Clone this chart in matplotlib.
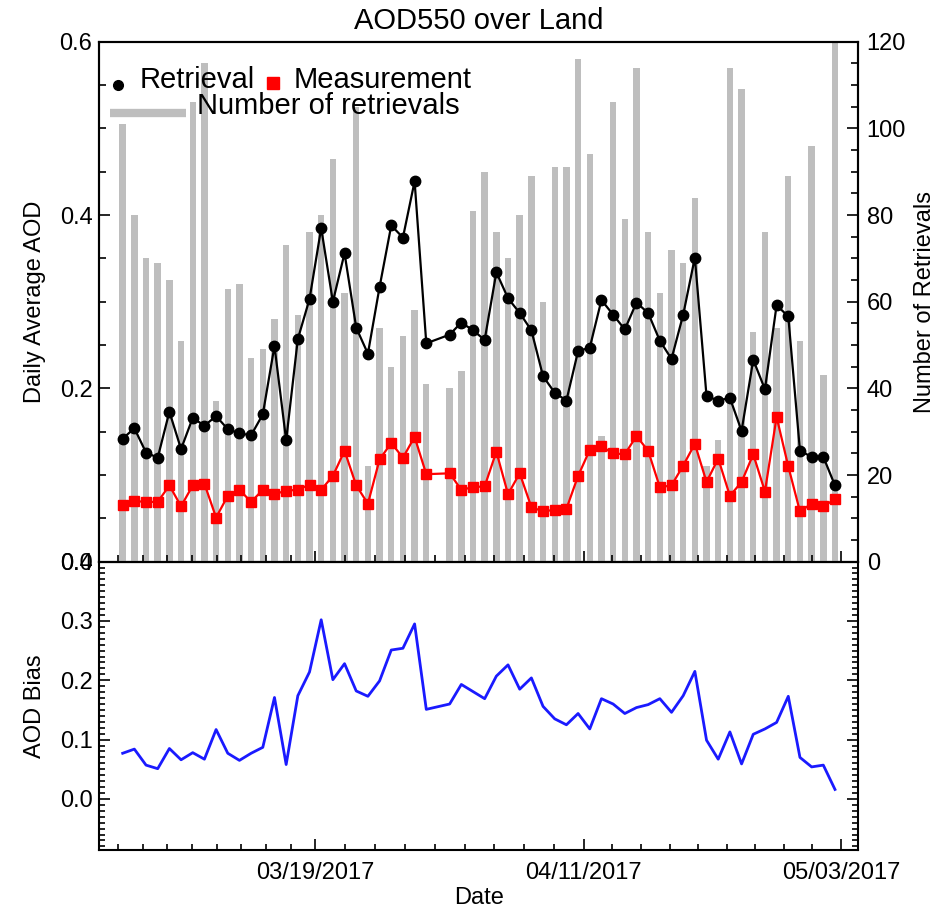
import numpy as np
import pandas as pd
import matplotlib
matplotlib.use("Agg")
import matplotlib.pyplot as plt
import matplotlib.dates as mdates
from matplotlib.ticker import MultipleLocator, FixedLocator, FormatStrFormatter

plt.rcParams['font.family'] = ['Liberation Sans', 'DejaVu Sans']

# daily values 2017-03-02 .. 2017-05-02, nothing on 03/29
days = pd.date_range('2017-03-02 12:00', '2017-05-02 12:00', freq='D')
days = days[days.normalize() != pd.Timestamp('2017-03-29')].to_pydatetime()

retrieval = [0.142, 0.154, 0.126, 0.120, 0.173, 0.130, 0.166, 0.157, 0.168, 0.153,
             0.148, 0.146, 0.170, 0.249, 0.140, 0.257, 0.303, 0.385, 0.300, 0.356,
             0.270, 0.240, 0.317, 0.388, 0.374, 0.439, 0.252,
             0.262, 0.276, 0.267, 0.256, 0.334, 0.304, 0.287, 0.267, 0.214, 0.195,
             0.186, 0.243, 0.247, 0.302, 0.285, 0.268, 0.299, 0.287, 0.255, 0.234,
             0.285, 0.351, 0.191, 0.186, 0.189, 0.151, 0.233, 0.199, 0.296, 0.283,
             0.128, 0.121, 0.121, 0.088]
measurement = [0.065, 0.070, 0.069, 0.069, 0.088, 0.064, 0.088, 0.090, 0.051, 0.076,
               0.083, 0.069, 0.083, 0.078, 0.082, 0.083, 0.089, 0.083, 0.099, 0.128,
               0.088, 0.067, 0.118, 0.137, 0.120, 0.144, 0.101,
               0.102, 0.083, 0.086, 0.087, 0.127, 0.078, 0.102, 0.063, 0.058, 0.060,
               0.061, 0.099, 0.129, 0.133, 0.125, 0.124, 0.145, 0.128, 0.086, 0.088,
               0.111, 0.136, 0.092, 0.119, 0.076, 0.092, 0.124, 0.081, 0.167, 0.110,
               0.058, 0.067, 0.064, 0.072]
n_retrievals = [101, 80, 70, 69, 65, 51, 106, 115, 37, 63,
                64, 47, 49, 56, 73, 57, 76, 80, 93, 62,
                105, 22, 54, 45, 52, 58, 41,
                40, 44, 81, 90, 76, 70, 80, 89, 60, 91,
                91, 116, 94, 29, 106, 79, 114, 76, 62, 72,
                69, 84, 22, 28, 114, 109, 53, 76, 54, 89,
                51, 96, 43, 120]
bias = [0.077, 0.084, 0.057, 0.051, 0.085, 0.066, 0.078, 0.067, 0.117, 0.077,
        0.065, 0.077, 0.087, 0.171, 0.058, 0.174, 0.214, 0.302, 0.201, 0.228,
        0.182, 0.173, 0.199, 0.251, 0.254, 0.295, 0.151,
        0.160, 0.193, 0.181, 0.169, 0.207, 0.226, 0.185, 0.204, 0.156, 0.135,
        0.125, 0.144, 0.118, 0.169, 0.160, 0.144, 0.154, 0.159, 0.169, 0.146,
        0.174, 0.215, 0.099, 0.067, 0.113, 0.059, 0.109, 0.118, 0.129, 0.173,
        0.070, 0.054, 0.057, 0.016]

major_dates = pd.to_datetime(['2017-03-19', '2017-04-11', '2017-05-03'])
tick_bounds = pd.to_datetime(['2017-02-28', '2017-03-19', '2017-04-11', '2017-05-03'])

FS = 17
fig = plt.figure(figsize=(9.45, 9.11), dpi=100)
ax = fig.add_axes([0.1051, 0.3834, 0.8032, 0.5708])
axb = fig.add_axes([0.1051, 0.0670, 0.8032, 0.3165], sharex=ax)
axr = ax.twinx()

# bars for the number of retrievals (right axis), behind the AOD lines
axr.bar(days, n_retrievals, width=0.55, color='#bebebe', zorder=1)
axr.set_ylim(0, 120)
axr.yaxis.set_major_locator(MultipleLocator(20))
axr.yaxis.set_minor_locator(MultipleLocator(5))
axr.tick_params(axis='y', which='both', direction='in', labelsize=FS, pad=6)
axr.tick_params(axis='y', which='major', length=8, width=1.2)
axr.tick_params(axis='y', which='minor', length=5, width=1.2)

ax.set_zorder(axr.get_zorder() + 1)
ax.patch.set_visible(False)
ax.plot(days, retrieval, '-o', color='black', ms=7.5, lw=1.6, zorder=3)
ax.plot(days, measurement, '-s', color='red', ms=7, lw=1.6, zorder=3)
ax.set_ylim(0, 0.6)
ax.yaxis.set_major_locator(MultipleLocator(0.2))
ax.yaxis.set_minor_locator(MultipleLocator(0.05))
ax.yaxis.set_major_formatter(FormatStrFormatter('%.1f'))
ax.tick_params(axis='both', which='both', direction='in', labelsize=FS, pad=5)
ax.tick_params(which='major', length=8, width=1.2)
ax.tick_params(which='minor', length=5, width=1.2)
ax.tick_params(axis='x', labelbottom=False)
ax.set_title('AOD550 over Land', fontsize=21, pad=9)

# legend drawn by hand
tr = ax.transAxes
ax.plot([0.025], [0.917], 'o', color='black', ms=7, transform=tr, clip_on=False, zorder=5)
ax.text(0.0536, 0.926, 'Retrieval', fontsize=21, va='center', ha='left', transform=tr, zorder=5)
ax.plot([0.2292], [0.920], 's', color='red', ms=8, transform=tr, clip_on=False, zorder=5)
ax.text(0.2556, 0.926, 'Measurement', fontsize=21, va='center', ha='left', transform=tr, zorder=5)
ax.plot([0.0141, 0.1142], [0.8623, 0.8623], color='#bebebe', lw=6, transform=tr,
        solid_capstyle='butt', zorder=5)
ax.text(0.1283, 0.876, 'Number of retrievals', fontsize=21, va='center', ha='left',
        transform=tr, zorder=5)

# bias panel
axb.plot(days, bias, color='#1a1aff', lw=2.0)
axb.set_ylim(-0.086, 0.4)
axb.yaxis.set_major_locator(MultipleLocator(0.1))
axb.yaxis.set_minor_locator(MultipleLocator(0.01))
axb.yaxis.set_major_formatter(FormatStrFormatter('%.1f'))
axb.tick_params(axis='both', which='both', direction='in', labelsize=FS, pad=5)
axb.tick_params(axis='y', which='both', right=True)
axb.tick_params(which='major', length=8, width=1.2)
axb.tick_params(which='minor', length=4, width=1.2)
axb.tick_params(axis='x', pad=9)

minor_ticks = []
for a, b in zip(tick_bounds[:-1], tick_bounds[1:]):
    minor_ticks += list(pd.date_range(a, b, periods=10)[1:-1])
axb.xaxis.set_major_locator(FixedLocator(mdates.date2num(major_dates.to_pydatetime())))
axb.xaxis.set_minor_locator(FixedLocator(mdates.date2num(pd.DatetimeIndex(minor_ticks).to_pydatetime())))
axb.xaxis.set_major_formatter(mdates.DateFormatter('%m/%d/%Y'))
axb.set_xlim(pd.Timestamp('2017-02-28 12:00'), pd.Timestamp('2017-05-04 12:00'))

for a in (ax, axb, axr):
    for s in a.spines.values():
        s.set_linewidth(1.5)

fig.text(0.037, 1 - 302 / 911, 'Daily Average AOD', rotation=90, fontsize=FS,
         ha='center', va='center')
fig.text(0.037, 1 - 706 / 911, 'AOD Bias', rotation=90, fontsize=FS,
         ha='center', va='center')
fig.text(925 / 945, 1 - 302 / 911, 'Number of Retrievals', rotation=90, fontsize=FS,
         ha='center', va='center')
fig.text(0.5067, 1 - 898 / 911, 'Date', fontsize=FS, ha='center', va='center')

fig.savefig('out.png', dpi=100)
